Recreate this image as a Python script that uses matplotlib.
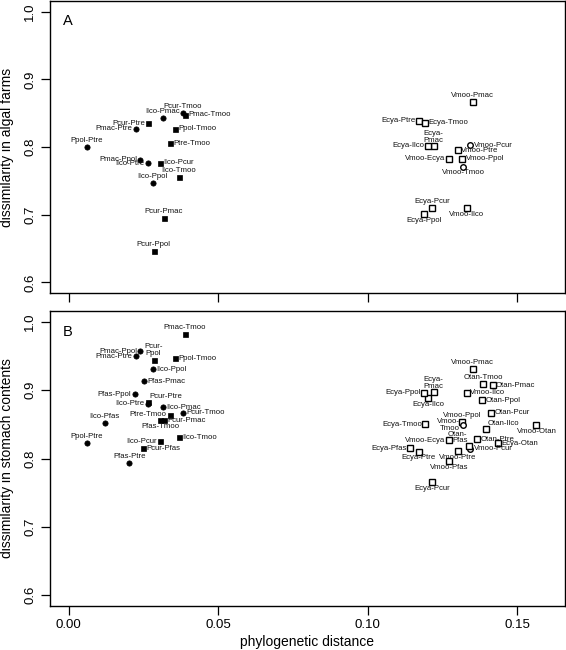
import numpy as np
import matplotlib
matplotlib.use("Agg")
import matplotlib.pyplot as plt

plt.rcParams["font.family"] = ["Liberation Sans", "DejaVu Sans"]

# species pairs, phylogenetic distance and dissimilarity in each habitat
pairs = [
    "Pcur-Tmoo", "Pmac-Tmoo", "Ilco-Pmac", "Pcur-Ptre", "Pmac-Ptre", "Ppol-Tmoo",
    "Ptre-Tmoo", "Ppol-Ptre", "Pmac-Ppol", "Ilco-Ptre", "Ilco-Pcur", "Ilco-Tmoo",
    "Ilco-Ppol", "Pcur-Pmac", "Pcur-Ppol", "Pfas-Pmac", "Pfas-Ppol", "Pfas-Tmoo",
    "Ilco-Pfas", "Pcur-Pfas", "Pfas-Ptre",
    "Vmoo-Pmac", "Ecya-Ptre", "Ecya-Tmoo", "Ecya-Pmac", "Ecya-Ilco", "Vmoo-Pcur",
    "Vmoo-Ptre", "Vmoo-Ecya", "Vmoo-Ppol", "Vmoo-Tmoo", "Ecya-Pcur", "Ecya-Ppol",
    "Vmoo-Ilco", "Otan-Tmoo", "Otan-Pmac", "Otan-Ppol", "Otan-Pcur", "Otan-Ilco",
    "Vmoo-Otan", "Otan-Pfas", "Otan-Ptre", "Ecya-Otan", "Ecya-Pfas", "Vmoo-Pfas",
]
phylo_dist = [
    0.0382, 0.0388, 0.0314, 0.0267, 0.0224, 0.0355,
    0.0338, 0.0060, 0.0240, 0.0264, 0.0306, 0.0368,
    0.0281, 0.0318, 0.0284, 0.0253, 0.0221, 0.0306,
    0.0121, 0.0248, 0.0203,
    0.1351, 0.1172, 0.1193, 0.1221, 0.1203, 0.1344,
    0.1301, 0.1272, 0.1317, 0.1320, 0.1215, 0.1188,
    0.1331, 0.1387, 0.1418, 0.1384, 0.1412, 0.1396,
    0.1565, 0.1339, 0.1367, 0.1437, 0.1143, 0.1272,
]
nan = np.nan
algal_diss = [
    0.850, 0.848, 0.843, 0.835, 0.827, 0.827,
    0.806, 0.800, 0.781, 0.776, 0.777, 0.756,
    0.747, 0.695, 0.647, nan, nan, nan,
    nan, nan, nan,
    0.867, 0.839, 0.836, 0.801, 0.802, 0.803,
    0.795, 0.783, 0.783, 0.771, 0.710, 0.701,
    0.710, nan, nan, nan, nan, nan,
    nan, nan, nan, nan, nan, nan,
]
stomach_diss = [
    0.867, 0.982, 0.875, 0.883, 0.950, 0.947,
    0.864, 0.823, 0.957, 0.880, 0.825, 0.831,
    0.931, 0.856, 0.945, 0.913, 0.894, 0.856,
    0.852, 0.815, 0.794,
    0.931, 0.810, 0.850, 0.897, 0.888, 0.814,
    0.811, 0.827, 0.854, 0.849, 0.766, 0.896,
    0.896, 0.909, 0.907, 0.885, 0.867, 0.843,
    0.849, 0.818, 0.828, 0.822, 0.815, 0.796,
]
# fc filled circle, fs filled square, oc open circle, os open square
kinds = [
    "fc", "fs", "fc", "fs", "fc", "fs",
    "fs", "fc", "fc", "fc", "fs", "fs",
    "fc", "fs", "fs", "fc", "fc", "fs",
    "fc", "fs", "fc",
    "os", "os", "os", "os", "os", "oc",
    "os", "os", "os", "oc", "os", "os",
    "os", "os", "os", "os", "os", "os",
    "os", "os", "os", "os", "os", "os",
]

# label placement (layout only)
place_a = {
    "Pcur-Tmoo": "t", "Pmac-Tmoo": "r", "Ilco-Pmac": "t", "Pcur-Ptre": "l",
    "Pmac-Ptre": "l", "Ppol-Tmoo": "r", "Ptre-Tmoo": "r", "Ppol-Ptre": "t",
    "Pmac-Ppol": "l", "Ilco-Ptre": "l", "Ilco-Pcur": "r", "Ilco-Tmoo": "t",
    "Ilco-Ppol": "t", "Pcur-Pmac": "t", "Pcur-Ppol": "t",
    "Vmoo-Pmac": "t", "Ecya-Ptre": "l", "Ecya-Tmoo": "r", "Ecya-Pmac": "t2",
    "Ecya-Ilco": "l", "Vmoo-Pcur": "r", "Vmoo-Ptre": "r", "Vmoo-Ecya": "l",
    "Vmoo-Ppol": "r", "Vmoo-Tmoo": "b", "Ecya-Pcur": "t", "Ecya-Ppol": "b",
    "Vmoo-Ilco": "b",
}
place_b = {
    "Pmac-Tmoo": "t", "Pmac-Ppol": "l", "Pmac-Ptre": "l", "Pcur-Ppol": "t2",
    "Ppol-Tmoo": "r", "Ilco-Ppol": "r", "Pfas-Pmac": "r", "Pfas-Ppol": "l",
    "Pcur-Ptre": "tr", "Ilco-Ptre": "l", "Ilco-Pmac": "r", "Pcur-Tmoo": "r",
    "Ptre-Tmoo": "l", "Pcur-Pmac": "r", "Pfas-Tmoo": "b", "Ilco-Pfas": "t",
    "Ppol-Ptre": "t", "Ilco-Pcur": "l", "Ilco-Tmoo": "r", "Pcur-Pfas": "r",
    "Pfas-Ptre": "t",
    "Vmoo-Pmac": "t", "Otan-Tmoo": "t", "Otan-Pmac": "r", "Ecya-Pmac": "t2",
    "Ecya-Ppol": "l", "Ecya-Ilco": "b", "Vmoo-Ilco": "r", "Otan-Ppol": "r",
    "Otan-Pcur": "r", "Vmoo-Ppol": "t", "Vmoo-Tmoo": "l2", "Ecya-Tmoo": "l",
    "Otan-Ilco": "tr", "Vmoo-Otan": "b", "Otan-Pfas": "tl2", "Otan-Ptre": "r",
    "Vmoo-Ecya": "l", "Ecya-Otan": "r", "Ecya-Pfas": "l", "Ecya-Ptre": "b",
    "Vmoo-Pcur": "r", "Vmoo-Ptre": "b", "Vmoo-Pfas": "b", "Ecya-Pcur": "b",
}

styles = {
    "fc": dict(marker="o", ms=3.8, mfc="black", mec="black", mew=0.5),
    "fs": dict(marker="s", ms=3.6, mfc="black", mec="black", mew=0.5),
    "oc": dict(marker="o", ms=4.0, mfc="white", mec="black", mew=1.0),
    "os": dict(marker="s", ms=4.0, mfc="white", mec="black", mew=1.0),
}
offsets = {
    "t": ((0, 2.0), "center", "bottom"),
    "b": ((0, -2.0), "center", "top"),
    "l": ((-2.5, 0), "right", "center"),
    "r": ((2.5, 0), "left", "center"),
    "tr": ((1.0, 1.5), "left", "bottom"),
    "tl": ((-1.0, 1.5), "right", "bottom"),
}

fig = plt.figure(figsize=(5.66, 6.5), dpi=100)
ax_a = fig.add_axes([0.0875, 0.549, 0.9105, 0.4495])
ax_b = fig.add_axes([0.0875, 0.0677, 0.9105, 0.4538])


def draw_panel(ax, values, place, letter, ylabel):
    for name, x, y, k in zip(pairs, phylo_dist, values, kinds):
        if np.isnan(y):
            continue
        ax.plot([x], [y], linestyle="none", **styles[k])
        code = place[name]
        text = name
        if code.endswith("2"):
            text = name.replace("-", "-\n")
            code = code[:-1]
        (dx, dy), ha, va = offsets[code]
        ax.annotate(text, (x, y), xytext=(dx, dy), textcoords="offset points",
                    ha=ha, va=va, fontsize=5.6, color="#111111",
                    linespacing=0.85)
    ax.set_xlim(-0.0064, 0.166)
    ax.set_ylim(0.584, 1.016)
    ax.set_yticks([0.6, 0.7, 0.8, 0.9, 1.0])
    ax.set_yticklabels(["0.6", "0.7", "0.8", "0.9", "1.0"], rotation=90,
                       va="center")
    ax.set_xticks([0.0, 0.05, 0.10, 0.15])
    ax.tick_params(direction="out", length=6.5, width=0.9, labelsize=9.5,
                   pad=3.0)
    for sp in ax.spines.values():
        sp.set_linewidth(1.0)
    ax.text(0.036, 0.93, letter, transform=ax.transAxes, fontsize=10.5,
            ha="center", va="center")
    ax.set_ylabel(ylabel, fontsize=10)
    ax.yaxis.set_label_coords(-0.068, 0.5)


draw_panel(ax_a, algal_diss, place_a, "A", "dissimilarity in algal farms")
draw_panel(ax_b, stomach_diss, place_b, "B", "dissimilarity in stomach contents")
ax_a.set_xticklabels([])
ax_b.set_xticklabels(["0.00", "0.05", "0.10", "0.15"])
ax_b.set_xlabel("phylogenetic distance", fontsize=10)
ax_b.xaxis.set_label_coords(0.5, -0.1)

fig.savefig("out.png", dpi=100)
